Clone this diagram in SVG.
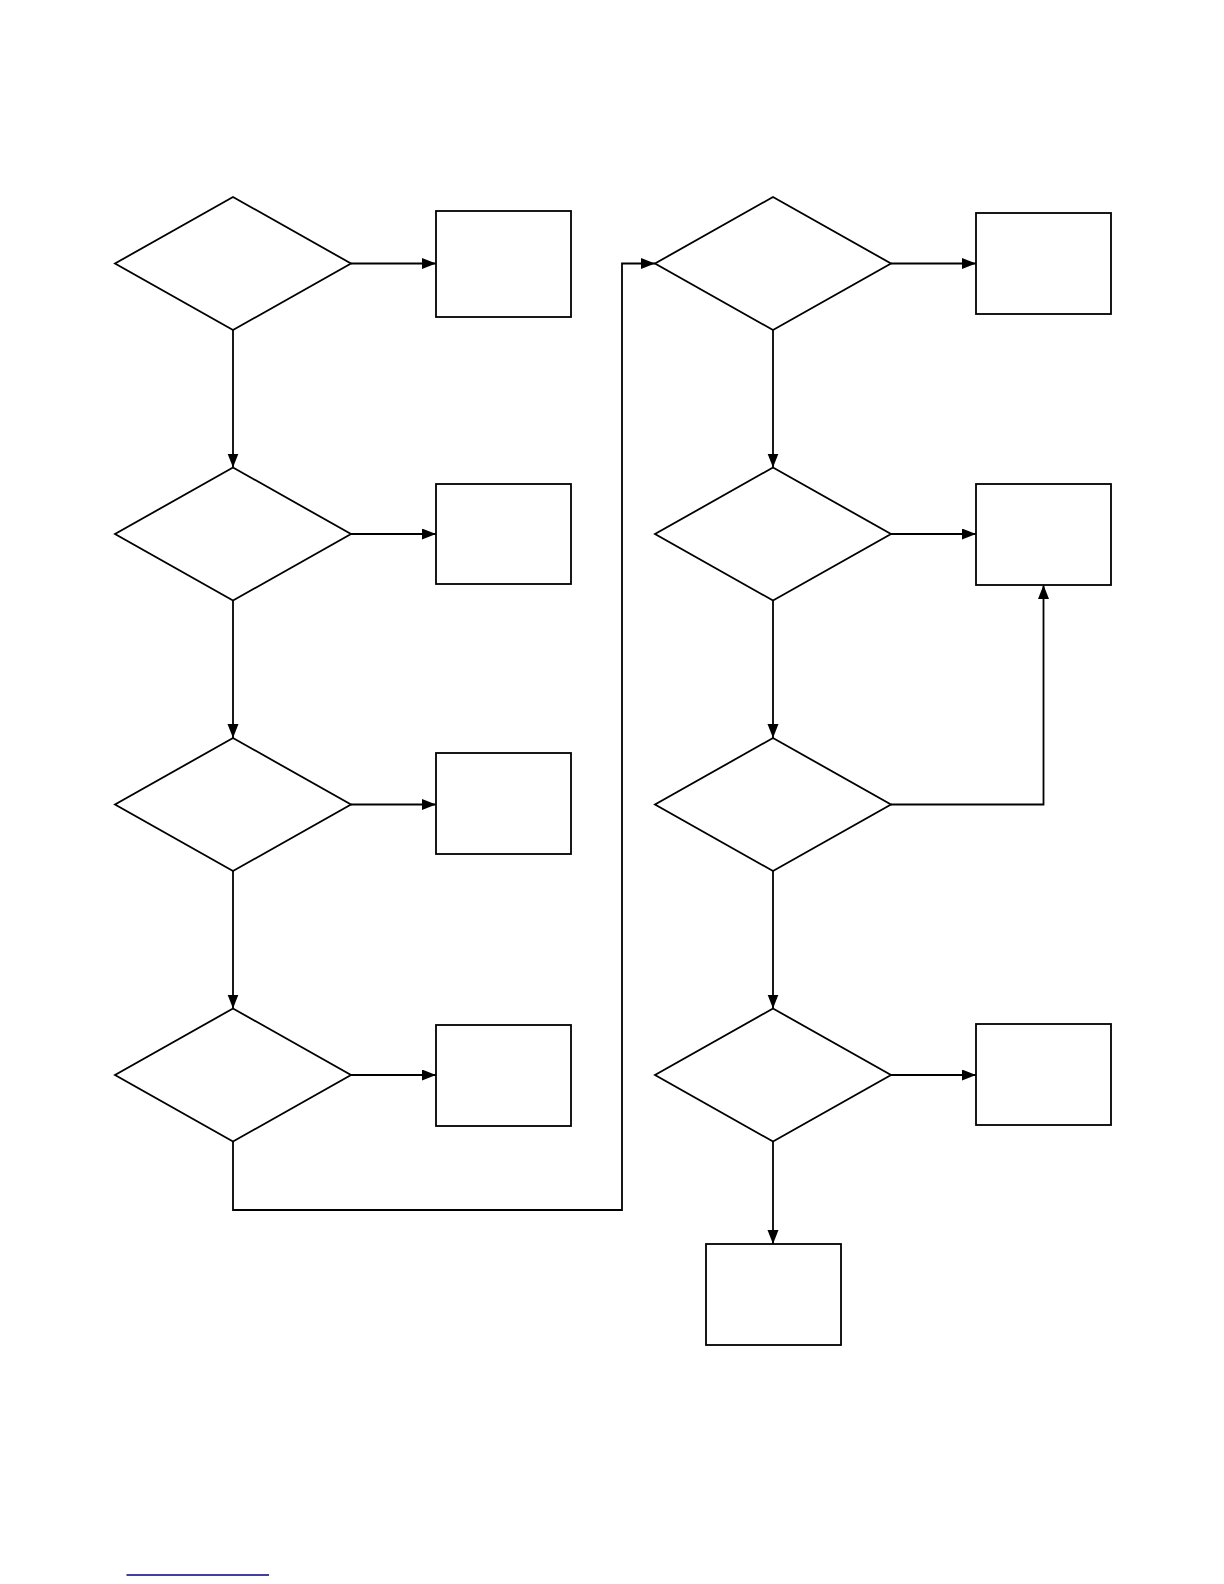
<svg xmlns="http://www.w3.org/2000/svg" width="1224" height="1584" viewBox="0 0 1224 1584">
<style>
.n{fill:#fff;stroke:#000;stroke-width:1.8}
.c{fill:none;stroke:#000;stroke-width:1.8}
</style>
<defs>
<marker id="a" markerUnits="userSpaceOnUse" markerWidth="15" markerHeight="12" refX="14" refY="5.5" orient="auto">
<path d="M0,0 L14,5.5 L0,11 z" fill="#000"/>
</marker>
</defs>
<rect width="1224" height="1584" fill="#fff"/>
<g id="connectors">
<path class="c" d="M351,263.5 H436" marker-end="url(#a)"/>
<path class="c" d="M233,330 V467.5" marker-end="url(#a)"/>
<path class="c" d="M351,534 H436" marker-end="url(#a)"/>
<path class="c" d="M233,600.5 V738" marker-end="url(#a)"/>
<path class="c" d="M351,804.5 H436" marker-end="url(#a)"/>
<path class="c" d="M233,871 V1008.5" marker-end="url(#a)"/>
<path class="c" d="M351,1075 H436" marker-end="url(#a)"/>
<path class="c" d="M233,1141.5 V1210 H622 V263.5 H655" marker-end="url(#a)"/>
<path class="c" d="M891,263.5 H976" marker-end="url(#a)"/>
<path class="c" d="M773,330 V467.5" marker-end="url(#a)"/>
<path class="c" d="M891,534 H976" marker-end="url(#a)"/>
<path class="c" d="M773,600.5 V738" marker-end="url(#a)"/>
<path class="c" d="M891,804.5 H1043.5 V585" marker-end="url(#a)"/>
<path class="c" d="M773,871 V1008.5" marker-end="url(#a)"/>
<path class="c" d="M891,1075 H976" marker-end="url(#a)"/>
<path class="c" d="M773,1141.5 V1244" marker-end="url(#a)"/>
</g>
<g id="d1"><polygon class="n" points="233,197 351,263.5 233,330 115,263.5"/></g>
<g id="d2"><polygon class="n" points="233,467.5 351,534 233,600.5 115,534"/></g>
<g id="d3"><polygon class="n" points="233,738 351,804.5 233,871 115,804.5"/></g>
<g id="d4"><polygon class="n" points="233,1008.5 351,1075 233,1141.5 115,1075"/></g>
<g id="b1"><rect class="n" x="436" y="211" width="135" height="106"/></g>
<g id="b2"><rect class="n" x="436" y="484" width="135" height="100"/></g>
<g id="b3"><rect class="n" x="436" y="753" width="135" height="101"/></g>
<g id="b4"><rect class="n" x="436" y="1025" width="135" height="101"/></g>
<g id="d5"><polygon class="n" points="773,197 891,263.5 773,330 655,263.5"/></g>
<g id="d6"><polygon class="n" points="773,467.5 891,534 773,600.5 655,534"/></g>
<g id="d7"><polygon class="n" points="773,738 891,804.5 773,871 655,804.5"/></g>
<g id="d8"><polygon class="n" points="773,1008.5 891,1075 773,1141.5 655,1075"/></g>
<g id="b5"><rect class="n" x="976" y="213" width="135" height="101"/></g>
<g id="b6"><rect class="n" x="976" y="484" width="135" height="101"/></g>
<g id="b7"><rect class="n" x="976" y="1024" width="135" height="101"/></g>
<g id="b8"><rect class="n" x="706" y="1244" width="135" height="101"/></g>
<line x1="126.5" y1="1575" x2="269" y2="1575" stroke="#000080" stroke-width="1.4"/>
</svg>
